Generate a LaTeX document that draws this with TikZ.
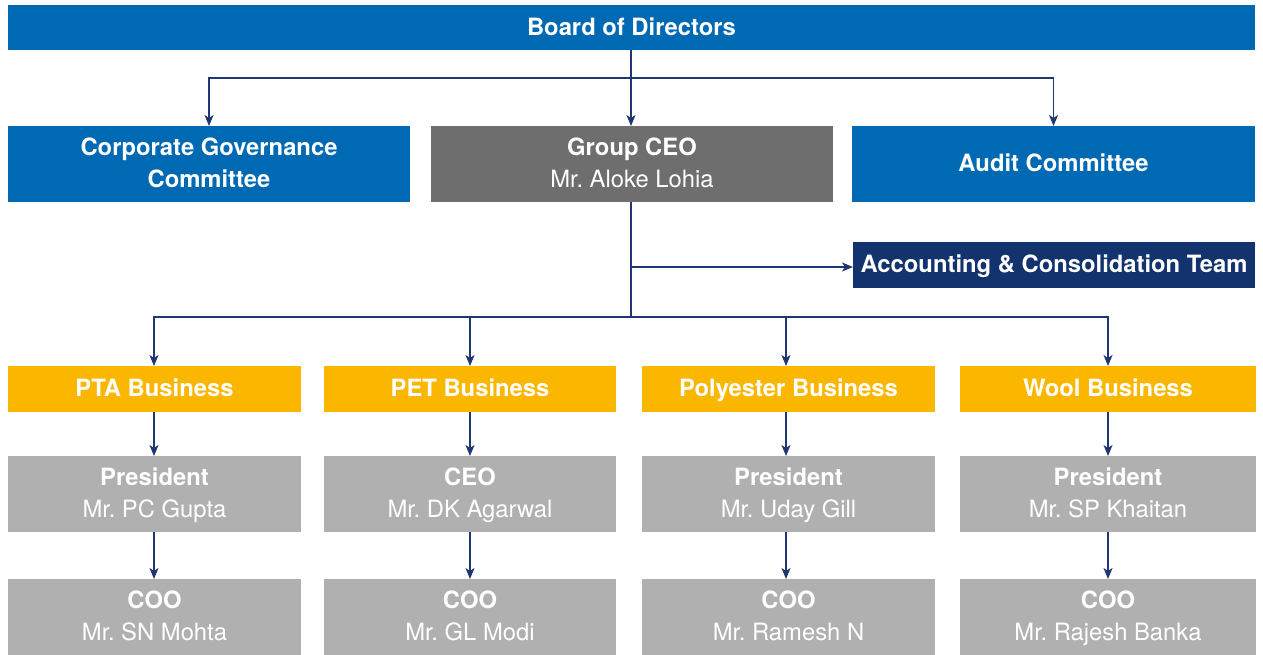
\documentclass[tikz,border=0pt]{standalone}
\usepackage{fontspec}
\setmainfont{TeX Gyre Heros}
\usetikzlibrary{arrows.meta}
\definecolor{cblue}{RGB}{0,105,180}
\definecolor{cdgray}{RGB}{110,110,110}
\definecolor{cnavy}{RGB}{19,51,110}
\definecolor{cyellow}{RGB}{251,183,0}
\definecolor{clgray}{RGB}{176,176,176}
\definecolor{cline}{RGB}{30,55,115}
\newcommand{\mys}{\rule[-6pt]{0pt}{27pt}}
\tikzset{
  box/.style={inner sep=0pt, outer sep=0pt, text=white, align=center,
    font=\fontsize{23.8}{32}\selectfont\frenchspacing},
  onebox/.style={box, font=\fontsize{23.8}{32}\selectfont\bfseries},
  conn/.style={draw=cline, line width=1.4pt},
  arr/.style={conn, -{Stealth[length=11pt,width=9pt,inset=3pt]}}
}
\newcommand{\ttl}[1]{{\bfseries #1}\mys}
\newcommand{\nm}[1]{#1\mys}
\begin{document}
\begin{tikzpicture}[x=1pt,y=-1pt]
\useasboundingbox (0,0) rectangle (1263,654);
% top
\node[onebox, fill=cblue, minimum width=1247pt, minimum height=45pt] (board) at (631.5,27.5) {Board of Directors\mys};
\node[onebox, fill=cblue, minimum width=402pt, minimum height=76pt] (cgc) at (209,164) {Corporate Governance\mys\\Committee\mys};
\node[box, fill=cdgray, minimum width=402pt, minimum height=76pt] (ceo) at (632,164) {\ttl{Group CEO}\\\nm{Mr. Aloke Lohia}};
\node[onebox, fill=cblue, minimum width=403pt, minimum height=76pt] (audit) at (1053.5,164) {Audit Committee\mys};
\node[onebox, fill=cnavy, minimum width=402pt, minimum height=46pt] (acct) at (1054,265) {Accounting \& Consolidation Team\mys};
% business row
\node[onebox, fill=cyellow, minimum width=293pt, minimum height=46pt] (pta) at (154.5,389) {PTA Business\mys};
\node[onebox, fill=cyellow, minimum width=292pt, minimum height=46pt] (pet) at (470,389) {PET Business\mys};
\node[onebox, fill=cyellow, minimum width=293pt, minimum height=46pt] (poly) at (788.5,389) {Polyester Business\mys};
\node[onebox, fill=cyellow, minimum width=296pt, minimum height=46pt] (wool) at (1108,389) {Wool Business\mys};
% presidents
\node[box, fill=clgray, minimum width=293pt, minimum height=76pt] (p1) at (154.5,494) {\ttl{President}\\\nm{Mr. PC Gupta}};
\node[box, fill=clgray, minimum width=292pt, minimum height=76pt] (p2) at (470,494) {\ttl{CEO}\\\nm{Mr. DK Agarwal}};
\node[box, fill=clgray, minimum width=293pt, minimum height=76pt] (p3) at (788.5,494) {\ttl{President}\\\nm{Mr. Uday Gill}};
\node[box, fill=clgray, minimum width=296pt, minimum height=76pt] (p4) at (1108,494) {\ttl{President}\\\nm{Mr. SP Khaitan}};
% COOs
\node[box, fill=clgray, minimum width=293pt, minimum height=76pt] (c1) at (154.5,617) {\ttl{COO}\\\nm{Mr. SN Mohta}};
\node[box, fill=clgray, minimum width=292pt, minimum height=76pt] (c2) at (470,617) {\ttl{COO}\\\nm{Mr. GL Modi}};
\node[box, fill=clgray, minimum width=293pt, minimum height=76pt] (c3) at (788.5,617) {\ttl{COO}\\\nm{Mr. Ramesh N}};
\node[box, fill=clgray, minimum width=296pt, minimum height=76pt] (c4) at (1108,617) {\ttl{COO}\\\nm{Mr. Rajesh Banka}};
% connectors top
\coordinate (j1) at (631,78);
\draw[conn] (j1 |- board.south) -- (j1);
\draw[arr] (j1) -- (j1 |- ceo.north);
\draw[arr] (j1) -| (cgc.north);
\draw[arr] (j1) -| (audit.north);
% CEO branch
\coordinate (j2) at (631,317);
\draw[conn] (j2 |- ceo.south) -- (j2);
\draw[arr] (j2 |- 0,267) -- (acct.west |- 0,267);
\draw[arr] (j2) -| (pta.north -| 154,0);
\draw[arr] (j2) -| (pet.north);
\draw[arr] (j2) -| (786,366);
\draw[arr] (j2) -| (wool.north);
% lower arrows
\foreach \a/\b/\c/\xx in {pta/p1/c1/154, pet/p2/c2/470, poly/p3/c3/786, wool/p4/c4/1108}{
  \draw[arr] (\a.south -| \xx,0) -- (\b.north -| \xx,0);
  \draw[arr] (\b.south -| \xx,0) -- (\c.north -| \xx,0);
}
\end{tikzpicture}
\end{document}
